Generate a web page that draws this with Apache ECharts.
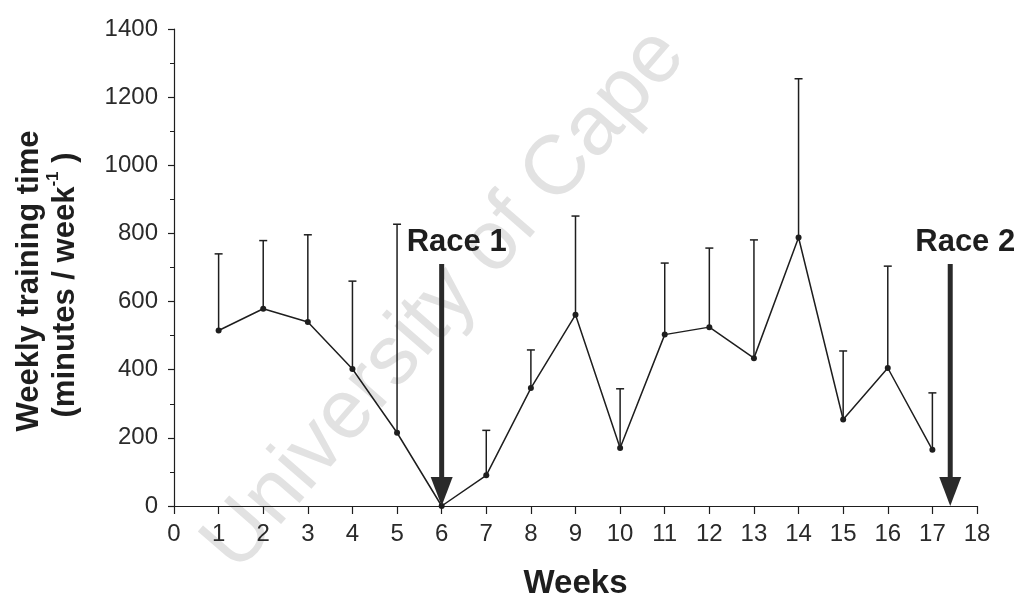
<!DOCTYPE html>
<html>
<head>
<meta charset="utf-8">
<script src="https://cdn.jsdelivr.net/npm/echarts@6/dist/echarts.min.js"></script>
<style>
html,body{margin:0;padding:0;background:#fff;}
#chart{width:1018px;height:605px;}
</style>
</head>
<body>
<div id="chart"></div>
<script>
const weeks = [1, 2, 3, 4, 5, 6, 7, 8, 9, 10, 11, 12, 13, 14, 15, 16, 17];
const meanTime = [515, 579, 540, 402, 215, 0, 90, 346, 561, 170, 503, 525, 434, 788, 254, 405, 165];
const upperTime = [740, 779, 796, 660, 827, null, 222, 458, 851, 344, 713, 757, 781, 1254, 455, 704, 332];
const raceWeeks = [6, 17.4];
const raceArrowTop = [710, 710];
const raceLabels = ['Race 1', 'Race 2'];
const yTicks = [0, 200, 400, 600, 800, 1000, 1200, 1400];
const xTicks = [0, 1, 2, 3, 4, 5, 6, 7, 8, 9, 10, 11, 12, 13, 14, 15, 16, 17, 18];

const ink = '#1e1e1e';
const FONT = '"Liberation Sans", Arial, sans-serif';

const chart = echarts.init(document.getElementById('chart'), null, {renderer: 'canvas'});

const option = {
  backgroundColor: '#fff',
  animation: false,
  grid: {left: 174, right: 41, top: 29, bottom: 93},
  xAxis: {
    type: 'value', min: xTicks[0], max: xTicks[xTicks.length - 1], interval: 1,
    axisLine: {lineStyle: {color: ink, width: 1.2}},
    axisTick: {show: true, length: 8, lineStyle: {color: ink, width: 1.2}},
    axisLabel: {color: '#2a2a2a', fontSize: 24, fontFamily: FONT, margin: 16},
    splitLine: {show: false},
    name: 'Weeks', nameLocation: 'middle', nameGap: 61,
    nameTextStyle: {fontSize: 33, fontWeight: 'bold', color: ink, fontFamily: FONT}
  },
  yAxis: {
    type: 'value', min: yTicks[0], max: yTicks[yTicks.length - 1], interval: 200,
    axisLine: {show: true, lineStyle: {color: ink, width: 1.2}},
    axisTick: {show: true, length: 6, lineStyle: {color: ink, width: 1.2}},
    minorTick: {show: true, splitNumber: 2, length: 4, lineStyle: {color: ink, width: 1}},
    axisLabel: {color: '#2a2a2a', fontSize: 24, fontFamily: FONT, margin: 16,
      formatter: function (v) { return String(v); }},
    splitLine: {show: false}
  },
  graphic: [
    {
      type: 'text', z: -10, x: 445, y: 300, rotation: 49 * Math.PI / 180,
      style: {text: 'University of Cape', font: '84px ' + FONT, fill: '#e2e2e2',
        textAlign: 'center', textVerticalAlign: 'middle'}
    },
    {
      type: 'text', x: 29, y: 281, rotation: Math.PI / 2,
      style: {text: 'Weekly training time', font: 'bold 31px ' + FONT, fill: ink,
        textAlign: 'center', textVerticalAlign: 'middle'}
    },
    {
      type: 'text', x: 63, y: 285, rotation: Math.PI / 2,
      style: {
        text: '{a|(minutes / week}{s|-1}{a| )}',
        textAlign: 'center', textVerticalAlign: 'middle',
        rich: {
          a: {fontSize: 31, fontWeight: 'bold', fontFamily: FONT, fill: ink, color: ink, lineHeight: 36, verticalAlign: 'bottom'},
          s: {fontSize: 17, fontWeight: 'bold', fontFamily: FONT, fill: ink, color: ink, lineHeight: 36, verticalAlign: 'top'}
        }
      }
    }
  ],
  series: [
    {
      type: 'line',
      data: weeks.map((w, i) => [w, meanTime[i]]),
      symbol: 'circle', symbolSize: 6,
      itemStyle: {color: ink},
      lineStyle: {color: ink, width: 1.5},
      z: 3
    },
    {
      type: 'custom',
      data: weeks.map((w, i) => [w, meanTime[i], upperTime[i]]),
      renderItem: function (params, api) {
        const up = api.value(2);
        if (up === null || isNaN(up)) return null;
        const p0 = api.coord([api.value(0), api.value(1)]);
        const p1 = api.coord([api.value(0), up]);
        const st = {stroke: ink, lineWidth: 1.5};
        return {
          type: 'group',
          children: [
            {type: 'line', shape: {x1: p0[0], y1: p0[1], x2: p1[0], y2: p1[1]}, style: st},
            {type: 'line', shape: {x1: p1[0] - 4, y1: p1[1], x2: p1[0] + 4, y2: p1[1]}, style: st}
          ]
        };
      },
      z: 2
    },
    {
      type: 'custom',
      data: raceWeeks.map((w, i) => [w, raceArrowTop[i], raceLabels[i]]),
      renderItem: function (params, api) {
        const x = api.value(0);
        const top = api.coord([x, api.value(1)]);
        const bot = api.coord([x, 0]);
        const headH = 29, headW = 11;
        return {
          type: 'group',
          children: [
            {type: 'rect', shape: {x: top[0] - 2.5, y: top[1], width: 5, height: bot[1] - headH - top[1] + 2},
              style: {fill: '#2a2a2a'}},
            {type: 'polygon', shape: {points: [[bot[0] - headW, bot[1] - headH], [bot[0] + headW, bot[1] - headH], [bot[0], bot[1]]]},
              style: {fill: '#2a2a2a'}},
            {type: 'text', x: top[0] + 15, y: top[1] - 6,
              style: {text: raceLabels[params.dataIndex], font: 'bold 31px ' + FONT, fill: ink,
                textAlign: 'center', textVerticalAlign: 'bottom'}}
          ]
        };
      },
      z: 4
    }
  ]
};
chart.setOption(option);
</script>
</body>
</html>
